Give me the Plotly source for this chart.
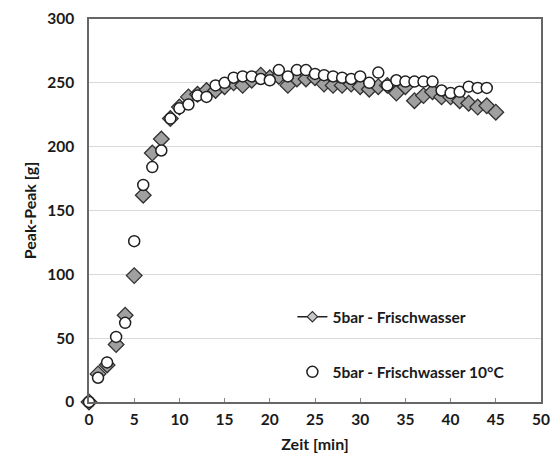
import plotly.graph_objects as go

# time axis [min]
zeit_a = list(range(0, 46))
zeit_b = list(range(0, 45))

# 5bar - Frischwasser (diamonds)
peak_a = [0, 22, 29, 45, 68, 99, 162, 195, 206, 222, 231, 239, 241, 244, 244, 247,
          250, 248, 252, 256, 254, 255, 248, 253, 253, 254, 249, 248, 248, 249,
          247, 245, 247, 248, 242, 247, 236, 240, 243, 239, 239, 236, 234, 231, 232, 227]

# 5bar - Frischwasser 10°C (circles)
peak_b = [0, 19, 31, 51, 62, 126, 170, 184, 197, 222, 230, 233, 240, 239, 248, 250,
          254, 255, 255, 253, 252, 260, 255, 260, 260, 257, 256, 255, 254, 253,
          255, 250, 258, 248, 252, 251, 251, 251, 251, 244, 242, 243, 247, 246, 246]

name_a = "5bar - Frischwasser"
name_b = "5bar - Frischwasser 10°C"

x_ticks = [0, 5, 10, 15, 20, 25, 30, 35, 40, 45, 50]
y_ticks = [0, 50, 100, 150, 200, 250, 300]

FONT = "Lato"
TXT = "#1a1a1a"

fig = go.Figure()

fig.add_trace(go.Scatter(
    x=zeit_a, y=peak_a, mode="markers", name=name_a, showlegend=False,
    marker=dict(symbol="diamond", size=12, color="#a0a0a0",
                line=dict(color="#303030", width=1.3)),
    cliponaxis=False,
))
# legend-only entry (Excel style line + marker)
fig.add_trace(go.Scatter(
    x=[None], y=[None], mode="lines+markers", name=name_a, legendgroup="a",
    line=dict(color="#202020", width=1.5),
    marker=dict(symbol="diamond", size=8, color="#c8c8c8",
                line=dict(color="#303030", width=1.2)),
))
fig.add_trace(go.Scatter(
    x=zeit_b, y=peak_b, mode="markers", name=name_b, legendgroup="b",
    marker=dict(symbol="circle", size=11, color="white",
                line=dict(color="#202020", width=1.5)),
    cliponaxis=False,
))

fig.update_layout(
    width=553, height=460,
    margin=dict(l=89, r=12, t=19, b=58),
    paper_bgcolor="white", plot_bgcolor="white",
    font=dict(family=FONT, color=TXT),
    showlegend=True,
    legend=dict(x=0.45, y=0.266, xanchor="left", yanchor="top",
                bgcolor="rgba(0,0,0,0)", tracegroupgap=32,
                font=dict(family=FONT, size=15.5, weight="bold", color=TXT),
                itemwidth=30),
    xaxis=dict(range=[0, 50], tickvals=x_ticks, ticks="inside", ticklen=4,
               tickcolor="#888888", showgrid=False, zeroline=False,
               showline=True, linecolor="#666666", linewidth=1.5, mirror=True,
               automargin=False,
               tickfont=dict(family=FONT, size=15.5, weight="bold", color=TXT),
               ticklabelstandoff=3,
               title=dict(text="Zeit [min]", standoff=11,
                          font=dict(family=FONT, size=16, weight="bold", color=TXT))),
    yaxis=dict(range=[0, 300], tickvals=y_ticks, ticks="", showgrid=True,
               gridcolor="#d9d9d9", gridwidth=1, zeroline=False,
               showline=True, linecolor="#666666", linewidth=1.5, mirror=True,
               automargin=False,
               tickfont=dict(family=FONT, size=15.5, weight="bold", color=TXT),
               ticklabelstandoff=10,
               title=dict(text="Peak-Peak [g]", standoff=7,
                          font=dict(family=FONT, size=16, weight="bold", color=TXT))),
)

fig.write_html("out.html")
